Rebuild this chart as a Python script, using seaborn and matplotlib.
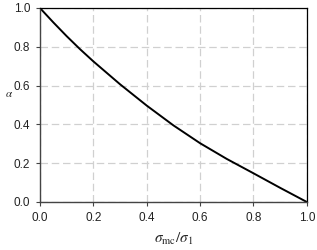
import matplotlib
matplotlib.use("Agg")
import matplotlib.pyplot as plt
import seaborn as sns
import pandas as pd

# valores
ratio = [0.0, 0.05, 0.1, 0.15, 0.2, 0.3, 0.4, 0.5, 0.6, 0.7, 0.8, 0.9, 1.0]
alpha = [1.0, 0.926, 0.855, 0.788, 0.725, 0.607, 0.497, 0.395, 0.303, 0.222, 0.148, 0.073, 0.0]
ticks = [0.0, 0.2, 0.4, 0.6, 0.8, 1.0]
tick_labels = ["0.0", "0.2", "0.4", "0.6", "0.8", "1.0"]

df = pd.DataFrame({"ratio": ratio, "alpha": alpha})

sns.set_style("white")
plt.rcParams["font.family"] = ["Liberation Sans", "DejaVu Sans"]
plt.rcParams["mathtext.fontset"] = "stix"

fig = plt.figure(figsize=(3.17, 2.5), dpi=100)
ax = fig.add_axes([0.126, 0.192, 0.842, 0.776])

sns.lineplot(data=df, x="ratio", y="alpha", color="black", linewidth=1.4, ax=ax)

ax.set_xlim(0, 1)
ax.set_ylim(0, 1)
ax.set_xticks(ticks)
ax.set_xticklabels(tick_labels)
ax.set_yticks(ticks)
ax.set_yticklabels(tick_labels)
ax.tick_params(axis="both", labelsize=8.5, length=3, width=0.8, direction="out",
               color="#444444", labelcolor="#222222", bottom=True, left=True, pad=4)
ax.grid(True, linestyle=(0, (6, 3)), color="#d0d0d0", linewidth=0.9)

for side in ["top", "right"]:
    ax.spines[side].set_color("black")
    ax.spines[side].set_linewidth(0.9)
for side in ["left", "bottom"]:
    ax.spines[side].set_color("#444444")
    ax.spines[side].set_linewidth(1.0)

ax.set_xlabel(r"$\sigma_{\rm mc}/\sigma_1$", fontsize=11)
ax.xaxis.set_label_coords(0.5, -0.15)
ax.set_ylabel(r"$\alpha$", fontsize=8, rotation=0)
ax.yaxis.set_label_coords(-0.115, 0.53)

fig.savefig("out.png", dpi=100)
